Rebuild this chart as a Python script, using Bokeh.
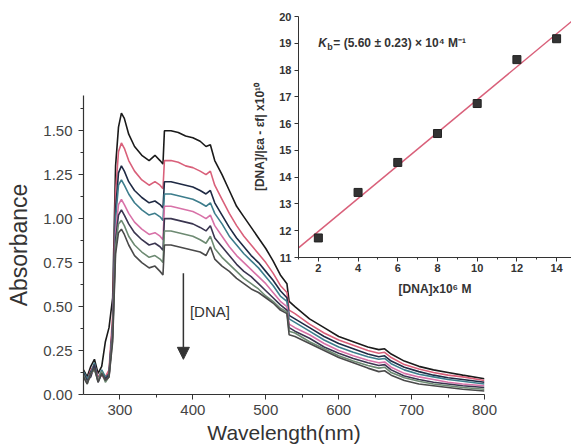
import numpy as np
from bokeh.plotting import figure
from bokeh.models import Range1d, FixedTicker, Arrow, NormalHead, Label, NumeralTickFormatter
from bokeh.embed import file_html
from bokeh.resources import INLINE

# ---------------- data: UV-vis spectra ----------------
wavelength = [250, 255, 260, 265, 270, 275, 280, 285, 290,
              294, 298, 302, 306, 312, 320, 330, 340, 348, 355, 359,
              361, 370, 380, 390, 400, 410, 418, 424, 430,
              440, 450, 460, 470, 480, 490, 500, 510, 520, 529,
              532, 540, 560, 580, 600, 620, 640, 655, 663, 672,
              690, 710, 730, 750, 770, 800]

abs_1 = [0.14, 0.10, 0.16, 0.20, 0.12, 0.16, 0.30, 0.38, 0.55,
         1.30, 1.52, 1.60, 1.57, 1.48, 1.41, 1.36, 1.33, 1.36, 1.33, 1.31,
         1.50, 1.50, 1.49, 1.47, 1.46, 1.44, 1.41, 1.42, 1.33,
         1.25, 1.16, 1.07, 1.01, 0.95, 0.89, 0.83, 0.76, 0.68, 0.63,
         0.53, 0.50, 0.43, 0.38, 0.33, 0.30, 0.27, 0.255, 0.26, 0.23,
         0.19, 0.16, 0.14, 0.125, 0.11, 0.09]
abs_2 = [0.12, 0.08, 0.14, 0.17, 0.10, 0.13, 0.10, 0.14, 0.45,
         1.15, 1.38, 1.43, 1.40, 1.33, 1.27, 1.22, 1.19, 1.21, 1.19, 1.17,
         1.33, 1.33, 1.32, 1.30, 1.29, 1.27, 1.25, 1.27, 1.19,
         1.11, 1.03, 0.96, 0.90, 0.85, 0.80, 0.75, 0.69, 0.62, 0.58,
         0.48, 0.46, 0.40, 0.35, 0.31, 0.28, 0.25, 0.235, 0.24, 0.21,
         0.17, 0.145, 0.125, 0.11, 0.10, 0.08]
abs_3 = [0.11, 0.07, 0.13, 0.16, 0.09, 0.12, 0.09, 0.12, 0.40,
         1.05, 1.26, 1.30, 1.27, 1.21, 1.16, 1.12, 1.09, 1.10, 1.08, 1.06,
         1.21, 1.21, 1.20, 1.19, 1.18, 1.16, 1.14, 1.16, 1.09,
         1.02, 0.95, 0.89, 0.84, 0.79, 0.75, 0.70, 0.65, 0.59, 0.55,
         0.45, 0.43, 0.38, 0.33, 0.29, 0.26, 0.23, 0.215, 0.22, 0.19,
         0.155, 0.13, 0.11, 0.095, 0.085, 0.07]
abs_4 = [0.13, 0.09, 0.12, 0.18, 0.08, 0.14, 0.10, 0.11, 0.38,
         1.00, 1.19, 1.22, 1.19, 1.14, 1.09, 1.05, 1.02, 1.03, 1.01, 0.99,
         1.14, 1.14, 1.13, 1.12, 1.11, 1.09, 1.07, 1.09, 1.03,
         0.97, 0.90, 0.85, 0.80, 0.76, 0.72, 0.67, 0.62, 0.56, 0.53,
         0.43, 0.41, 0.36, 0.31, 0.27, 0.24, 0.215, 0.20, 0.205, 0.175,
         0.14, 0.115, 0.10, 0.085, 0.075, 0.06]
abs_5 = [0.10, 0.07, 0.11, 0.15, 0.09, 0.11, 0.08, 0.10, 0.36,
         0.92, 1.08, 1.11, 1.08, 1.03, 0.98, 0.94, 0.91, 0.92, 0.90, 0.88,
         1.07, 1.07, 1.06, 1.05, 1.04, 1.02, 1.00, 1.02, 0.96,
         0.90, 0.84, 0.79, 0.75, 0.71, 0.67, 0.63, 0.58, 0.53, 0.50,
         0.40, 0.38, 0.34, 0.29, 0.25, 0.22, 0.195, 0.18, 0.185, 0.155,
         0.12, 0.10, 0.085, 0.07, 0.06, 0.05]
abs_6 = [0.12, 0.08, 0.10, 0.17, 0.07, 0.12, 0.09, 0.11, 0.34,
         0.88, 1.02, 1.05, 1.02, 0.97, 0.92, 0.88, 0.85, 0.86, 0.84, 0.82,
         1.00, 1.00, 0.99, 0.98, 0.97, 0.95, 0.93, 0.96, 0.89,
         0.84, 0.79, 0.74, 0.70, 0.67, 0.63, 0.59, 0.55, 0.51, 0.48,
         0.38, 0.36, 0.32, 0.27, 0.235, 0.205, 0.18, 0.165, 0.17, 0.14,
         0.105, 0.085, 0.07, 0.06, 0.05, 0.04]
abs_7 = [0.11, 0.06, 0.12, 0.14, 0.08, 0.13, 0.07, 0.10, 0.32,
         0.84, 0.97, 0.99, 0.96, 0.90, 0.85, 0.81, 0.78, 0.79, 0.77, 0.75,
         0.93, 0.93, 0.92, 0.91, 0.90, 0.88, 0.86, 0.90, 0.83,
         0.78, 0.74, 0.70, 0.66, 0.63, 0.60, 0.56, 0.53, 0.49, 0.47,
         0.36, 0.35, 0.30, 0.26, 0.22, 0.19, 0.165, 0.15, 0.155, 0.125,
         0.095, 0.075, 0.06, 0.05, 0.04, 0.03]
abs_8 = [0.10, 0.06, 0.12, 0.15, 0.07, 0.12, 0.08, 0.10, 0.30,
         0.80, 0.92, 0.94, 0.91, 0.85, 0.79, 0.75, 0.72, 0.73, 0.70, 0.68,
         0.85, 0.85, 0.84, 0.83, 0.82, 0.81, 0.79, 0.84, 0.77,
         0.73, 0.70, 0.66, 0.63, 0.60, 0.58, 0.55, 0.52, 0.48, 0.46,
         0.34, 0.33, 0.29, 0.25, 0.21, 0.18, 0.15, 0.13, 0.135, 0.11,
         0.08, 0.06, 0.05, 0.04, 0.03, 0.02]

spectra = [abs_1, abs_2, abs_3, abs_4, abs_5, abs_6, abs_7, abs_8]
colors = ["#1a1a1a", "#d9607a", "#1f2a44", "#3d7d8c",
          "#d872a8", "#3a3550", "#6d8a72", "#4a4a4a"]

x_ticks = [300, 400, 500, 600, 700, 800]
x_minor = [350, 450, 550, 650, 750]
y_ticks = [0.00, 0.25, 0.50, 0.75, 1.00, 1.25, 1.50]
y_minor = [0.125, 0.375, 0.625, 0.875, 1.125, 1.375, 1.625]

# ---------------- data: inset ----------------
dna_conc = [2, 4, 6, 8, 10, 12, 14]
ratio = [11.73, 13.43, 14.55, 15.63, 16.75, 18.39, 19.17]
inset_x_ticks = [2, 4, 6, 8, 10, 12, 14]
inset_x_minor = [1, 3, 5, 7, 9, 11, 13]
inset_y_ticks = [11, 12, 13, 14, 15, 16, 17, 18, 19, 20]

FONT = "Liberation Sans"

# ---------------- main figure ----------------
p = figure(width=571, height=448, output_backend="svg", toolbar_location=None,
           x_range=Range1d(250, 800), y_range=Range1d(0, 1.70),
           min_border_left=83, min_border_right=87, min_border_top=95,
           min_border_bottom=54)
p.background_fill_color = "white"
p.border_fill_color = "white"
p.outline_line_color = None
p.grid.visible = False

for ys, c in zip(spectra, colors):
    p.line(wavelength, ys, line_color=c, line_width=1.6)

p.xaxis.ticker = FixedTicker(ticks=x_ticks, minor_ticks=x_minor)
p.yaxis.ticker = FixedTicker(ticks=y_ticks, minor_ticks=y_minor)
p.yaxis.formatter = NumeralTickFormatter(format="0.00")
for ax in (p.xaxis[0], p.yaxis[0]):
    ax.axis_line_color = "#333333"
    ax.axis_line_width = 1.2
    ax.major_tick_line_color = "#333333"
    ax.minor_tick_line_color = "#333333"
    ax.major_tick_in = 0
    ax.major_tick_out = 5
    ax.minor_tick_in = 0
    ax.minor_tick_out = 3
    ax.major_label_text_font = FONT
    ax.major_label_text_font_size = "15px"
    ax.major_label_text_color = "#444444"
    ax.axis_label_text_font = FONT
    ax.axis_label_text_font_style = "normal"
    ax.axis_label_text_color = "#333333"
p.xaxis.major_label_standoff = 5
p.yaxis.major_label_standoff = 6
p.xaxis.axis_label = "Wavelength(nm)"
p.xaxis.axis_label_text_font_size = "21px"
p.xaxis.axis_label_standoff = 3
p.yaxis.axis_label = "Absorbance"
p.yaxis.axis_label_text_font_size = "23px"
p.yaxis.axis_label_standoff = 8

p.add_layout(Arrow(end=NormalHead(size=12, fill_color="#333333", line_color="#333333"),
                   x_start=387, y_start=0.69, x_end=387, y_end=0.20,
                   line_color="#333333", line_width=1.5))
p.add_layout(Label(x=396, y=0.47, text="[DNA]", text_font=FONT,
                   text_font_size="15px", text_color="#333333",
                   text_baseline="middle"))

# ---------------- inset (separate root, overlaid) ----------------
ins = figure(width=323, height=302, output_backend="svg", toolbar_location=None,
             x_range=Range1d(1, 14.75), y_range=Range1d(11, 20),
             min_border_left=50, min_border_right=0, min_border_top=16,
             min_border_bottom=45)
ins.background_fill_alpha = 0
ins.border_fill_alpha = 0
ins.outline_line_color = None
ins.grid.visible = False

slope, intercept = np.polyfit(dna_conc, ratio, 1)
fit_x = [ins.x_range.start, ins.x_range.end]
fit_y = [intercept + slope * v for v in fit_x]
ins.line(fit_x, fit_y, line_color="#d9607a", line_width=1.5)
ins.scatter(dna_conc, ratio, marker="square", size=8,
            fill_color="#333333", line_color="#222222")

ins.xaxis.ticker = FixedTicker(ticks=inset_x_ticks, minor_ticks=inset_x_minor)
ins.yaxis.ticker = FixedTicker(ticks=inset_y_ticks, minor_ticks=[])
for ax in (ins.xaxis[0], ins.yaxis[0]):
    ax.axis_line_color = "#333333"
    ax.major_tick_line_color = "#333333"
    ax.minor_tick_line_color = "#333333"
    ax.major_tick_in = 0
    ax.major_tick_out = 4
    ax.minor_tick_in = 0
    ax.minor_tick_out = 2
    ax.major_label_text_font = FONT
    ax.major_label_text_font_size = "11px"
    ax.major_label_text_font_style = "bold"
    ax.major_label_text_color = "#333333"
    ax.axis_label_text_font = FONT
    ax.axis_label_text_font_size = "12px"
    ax.axis_label_text_font_style = "bold"
    ax.axis_label_text_color = "#333333"
ins.xaxis.major_label_standoff = 2
ins.yaxis.major_label_standoff = 3
ins.xaxis.axis_label = "[DNA]x10⁶ M"
ins.xaxis.axis_label_standoff = 7
ins.yaxis.axis_label = "[DNA]/|εa - εf| x10¹⁰"
ins.yaxis.axis_label_standoff = 9

ins.add_layout(Label(x=2.0, y=19.0, text="K", text_font=FONT, text_font_size="12px",
                     text_font_style="bold italic", text_color="#333333",
                     text_baseline="middle"))
ins.add_layout(Label(x=2.0, y=19.0, x_offset=9, y_offset=-4, text="b", text_font=FONT,
                     text_font_size="9px", text_font_style="bold", text_color="#333333",
                     text_baseline="middle"))
ins.add_layout(Label(x=2.0, y=19.0, x_offset=15, text="= (5.60 ± 0.23) × 10⁴ M⁻¹",
                     text_font=FONT, text_font_size="12px", text_font_style="bold",
                     text_color="#333333", text_baseline="middle"))

ins.margin = (-448, 0, 0, 248)

open("out.html", "w").write(file_html([p, ins], INLINE))
